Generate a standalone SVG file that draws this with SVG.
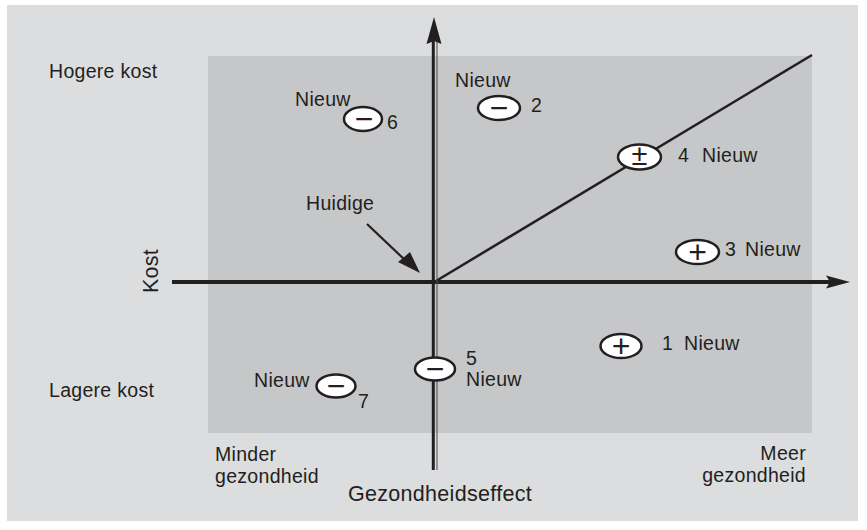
<svg xmlns="http://www.w3.org/2000/svg" width="867" height="530" viewBox="0 0 867 530">
<style>
.t{font-family:"Liberation Sans",Arial,sans-serif;font-size:19.5px;fill:#231f20;letter-spacing:0.3px}
.big{font-size:21.5px}
.node ellipse{fill:#ffffff;stroke:#231f20;stroke-width:2.5}
.sym{font-family:"Liberation Sans",Arial,sans-serif;font-size:32px;fill:#231f20;text-anchor:middle}
.ax{stroke:#231f20;fill:none}
</style>
<rect x="0" y="0" width="867" height="530" fill="#ffffff"/>
<rect x="7" y="5" width="851" height="516" fill="#dcdddf"/>
<rect x="208" y="56" width="604" height="377" fill="#c6c7c9"/>

<g id="labels">
<text class="t" x="49" y="78">Hogere kost</text>
<text class="t" x="49" y="397">Lagere kost</text>
<text class="t big" transform="translate(158,271) rotate(-90)" text-anchor="middle">Kost</text>
<text class="t" x="215" y="461">Minder</text>
<text class="t" x="215" y="483">gezondheid</text>
<text class="t" x="806" y="460" text-anchor="end">Meer</text>
<text class="t" x="806" y="482" text-anchor="end">gezondheid</text>
<text class="t big" x="440" y="501" text-anchor="middle">Gezondheidseffect</text>
<text class="t" x="306" y="210">Huidige</text>
</g>

<g id="connectors">
<line class="ax" x1="436" y1="281" x2="812" y2="55" stroke-width="2.5"/>
<line class="ax" x1="172" y1="282" x2="830" y2="282" stroke-width="4"/>
<path d="M850,282 L826,275.5 L830,282 L826,288.5 Z" fill="#231f20"/>
<line class="ax" x1="433.3" y1="40" x2="433.3" y2="470" stroke-width="3"/>
<line x1="437" y1="40" x2="437" y2="470" stroke="#4a4a4c" stroke-width="1"/>
<path d="M434,17 L441.5,44 L434,41 L426.5,44 Z" fill="#231f20"/>
<line class="ax" x1="367" y1="224" x2="406" y2="261" stroke-width="2.2"/>
<path d="M420,273 L398,262 L403,258 L410,252 Z" fill="#231f20"/>
</g>

<g id="node6" class="node">
<text class="t" x="295" y="106">Nieuw</text>
<ellipse cx="363" cy="119" rx="19" ry="12"/>
<text class="sym" x="364" y="130">−</text>
<text class="t" x="387" y="129">6</text>
</g>
<g id="node2" class="node">
<text class="t" x="455" y="87">Nieuw</text>
<ellipse cx="499" cy="108" rx="21" ry="12"/>
<text class="sym" x="499" y="119">−</text>
<text class="t" x="531" y="112">2</text>
</g>
<g id="node4" class="node">
<ellipse cx="639.5" cy="157" rx="21.5" ry="12.5"/>
<text class="sym" x="639.5" y="165" style="font-size:29px">±</text>
<text class="t" x="678" y="162">4</text>
<text class="t" x="702" y="162">Nieuw</text>
</g>
<g id="node3" class="node">
<ellipse cx="697.5" cy="252" rx="21.5" ry="12"/>
<text class="sym" x="697.5" y="263">+</text>
<text class="t" x="725" y="256">3</text>
<text class="t" x="745" y="256">Nieuw</text>
</g>
<g id="node1" class="node">
<ellipse cx="621" cy="346" rx="20.5" ry="12"/>
<text class="sym" x="621" y="357">+</text>
<text class="t" x="662" y="350">1</text>
<text class="t" x="684" y="350">Nieuw</text>
</g>
<g id="node5" class="node">
<ellipse cx="435" cy="369" rx="20" ry="11.5"/>
<text class="sym" x="435" y="380">−</text>
<text class="t" x="466" y="365">5</text>
<text class="t" x="466" y="386">Nieuw</text>
</g>
<g id="node7" class="node">
<text class="t" x="254" y="387">Nieuw</text>
<ellipse cx="336" cy="386" rx="19.5" ry="11.5"/>
<text class="sym" x="336" y="397">−</text>
<text class="t" x="358" y="408">7</text>
</g>
</svg>
